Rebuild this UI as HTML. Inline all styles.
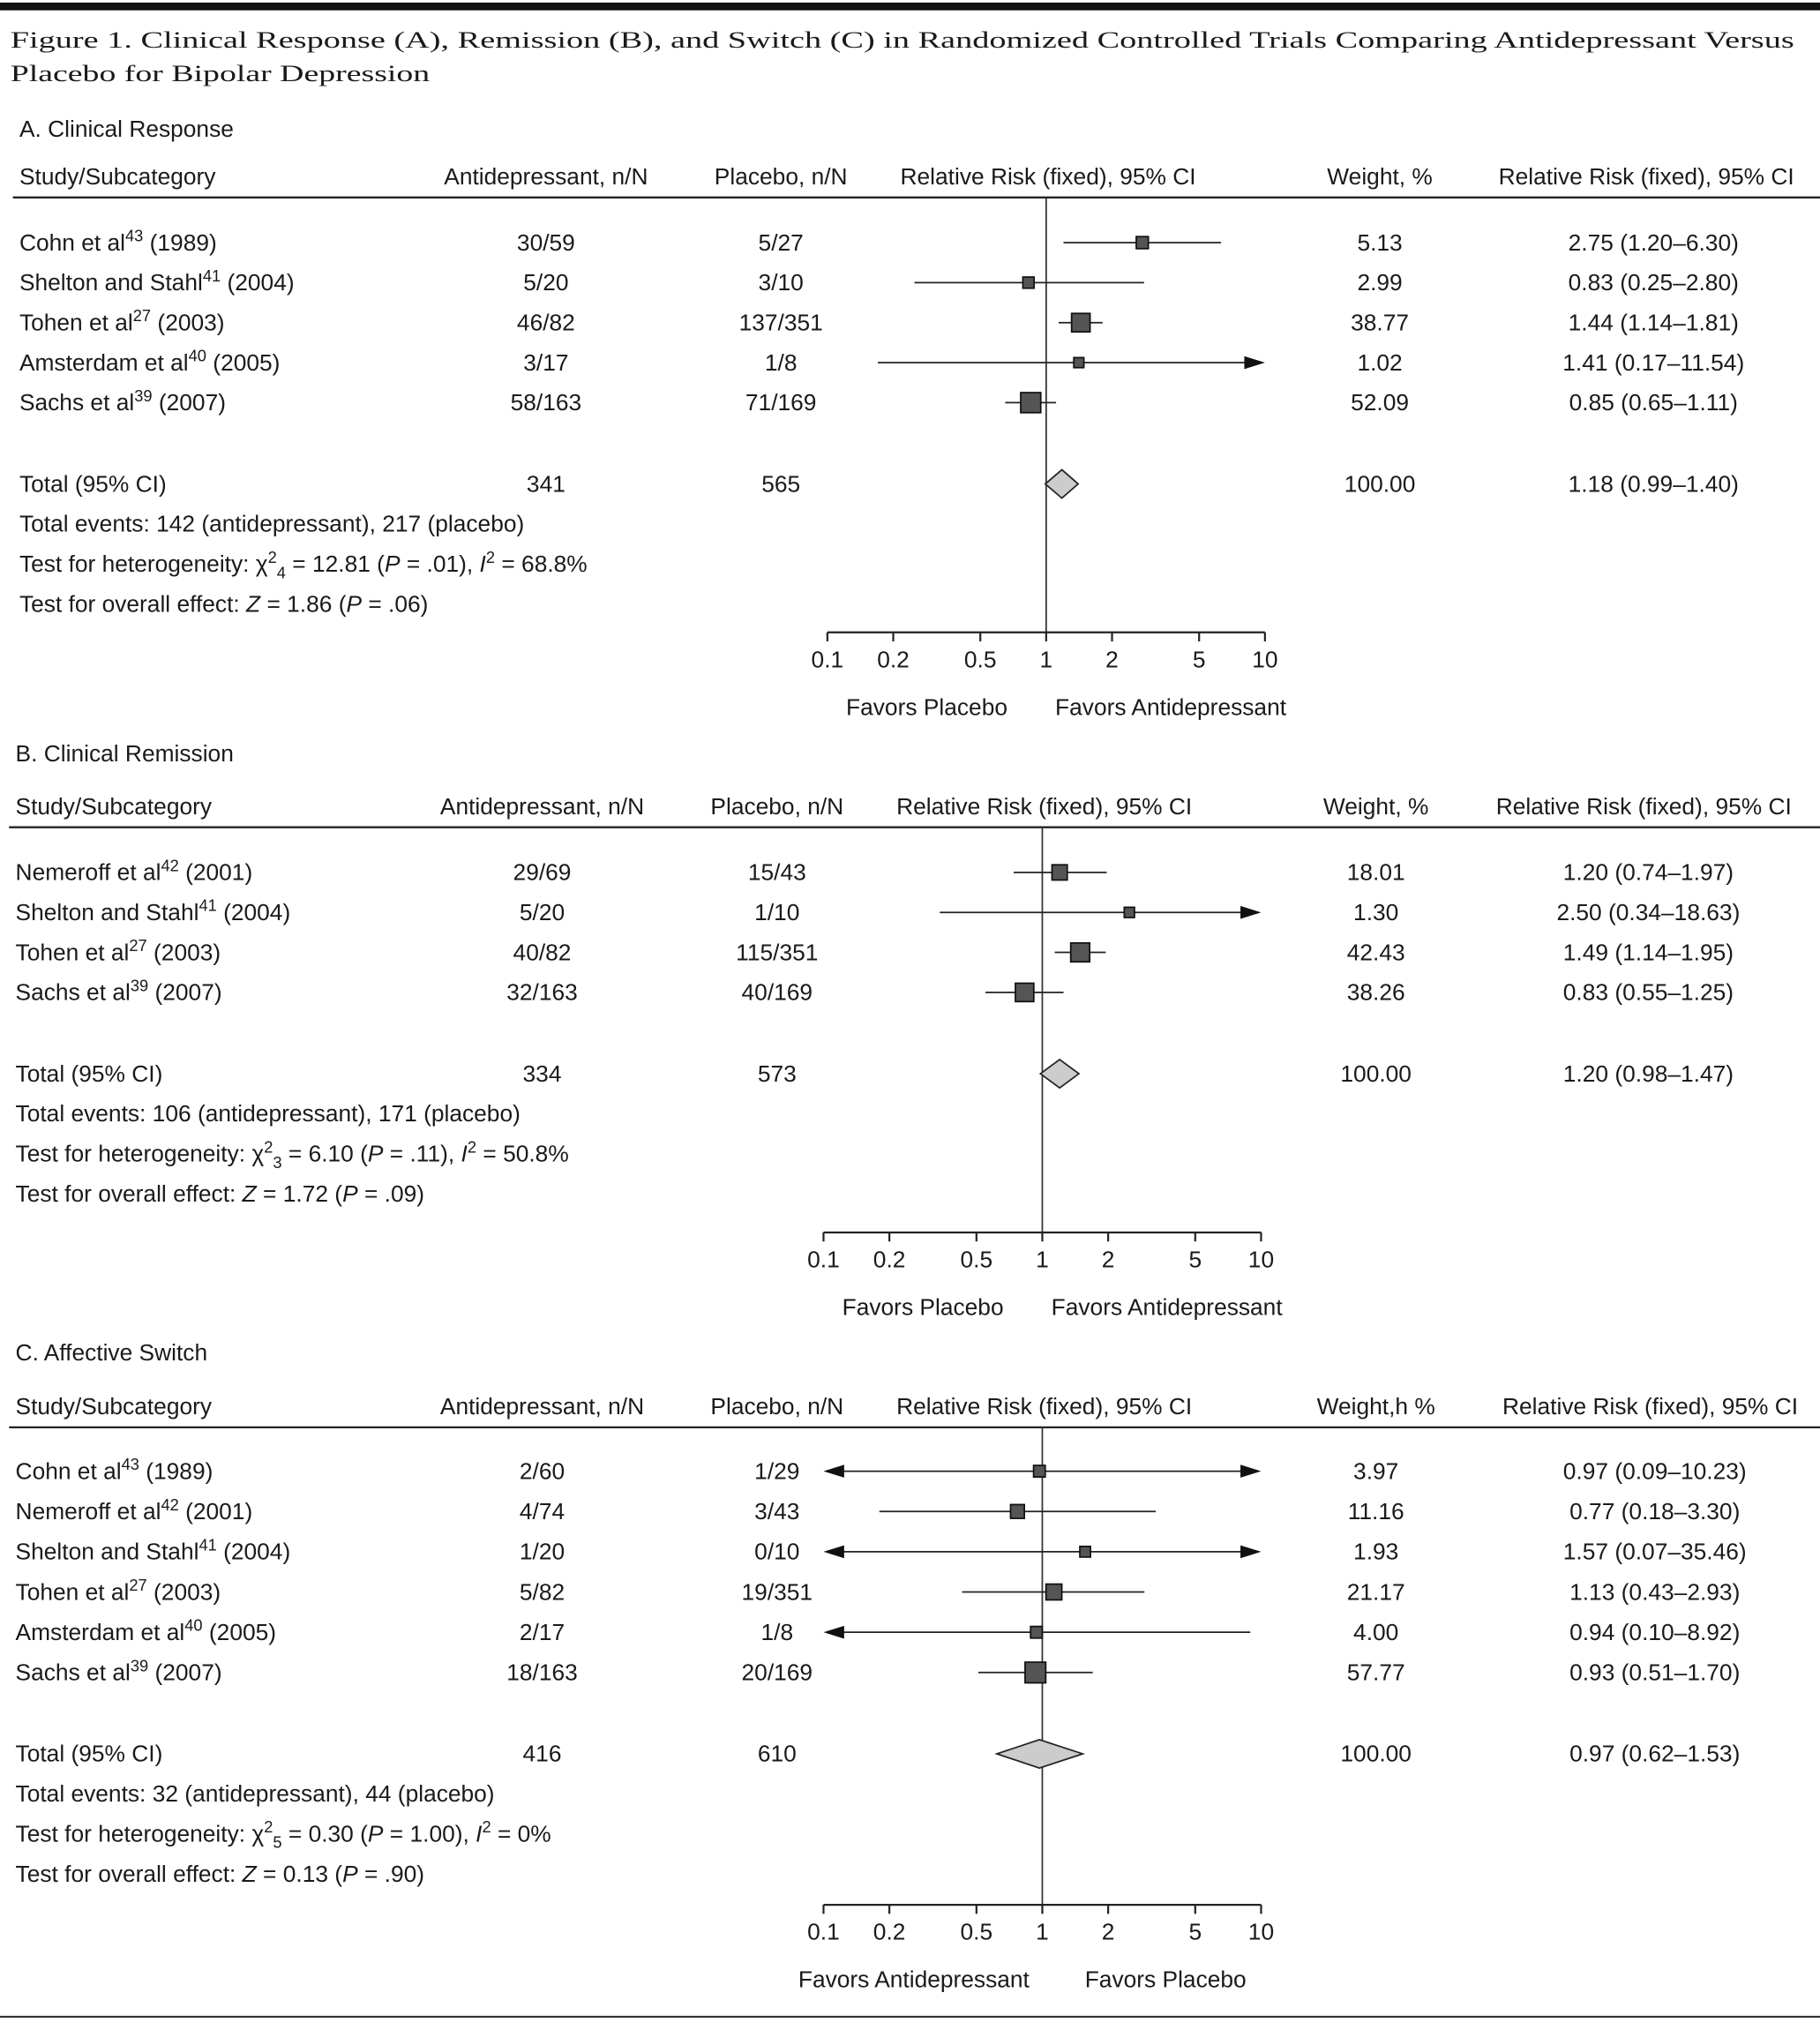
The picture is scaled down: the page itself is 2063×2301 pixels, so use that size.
<!DOCTYPE html>
<html><head><meta charset="utf-8">
<style>
html,body{margin:0;padding:0;background:#fff;}
svg{display:block;}
text{font-family:"Liberation Sans",sans-serif;font-size:18px;fill:#1a1a1a;}
.serif{font-family:"Liberation Serif",serif;}
</style></head>
<body>
<svg id="fig" width="2063" height="2301" viewBox="0 0 1410 1573" preserveAspectRatio="none" xmlns="http://www.w3.org/2000/svg">
<rect x="0" y="2" width="1410" height="6" fill="#111"/>
<text class="serif" x="8" y="37" font-size="28" textLength="1382" lengthAdjust="spacingAndGlyphs">Figure 1. Clinical Response (A), Remission (B), and Switch (C) in Randomized Controlled Trials Comparing Antidepressant Versus</text>
<text class="serif" x="8" y="63" font-size="28" textLength="325" lengthAdjust="spacingAndGlyphs">Placebo for Bipolar Depression</text>
<rect x="0" y="1562" width="1410" height="1.5" fill="#333"/>
</svg>
<script>
// ---- data ----
const ticks = [0.1, 0.2, 0.5, 1, 2, 5, 10];
const tickLabels = ['0.1', '0.2', '0.5', '1', '2', '5', '10'];

const studiesA = ['Cohn et al|43|(1989)', 'Shelton and Stahl|41|(2004)', 'Tohen et al|27|(2003)', 'Amsterdam et al|40|(2005)', 'Sachs et al|39|(2007)'];
const antiA = ['30/59', '5/20', '46/82', '3/17', '58/163'];
const placA = ['5/27', '3/10', '137/351', '1/8', '71/169'];
const weightA = [5.13, 2.99, 38.77, 1.02, 52.09];
const rrA = [2.75, 0.83, 1.44, 1.41, 0.85];
const loA = [1.20, 0.25, 1.14, 0.17, 0.65];
const hiA = [6.30, 2.80, 1.81, 11.54, 1.11];
const totalA = ['341', '565', '100.00'];
const totalRRA = [1.18, 0.99, 1.40];

const studiesB = ['Nemeroff et al|42|(2001)', 'Shelton and Stahl|41|(2004)', 'Tohen et al|27|(2003)', 'Sachs et al|39|(2007)'];
const antiB = ['29/69', '5/20', '40/82', '32/163'];
const placB = ['15/43', '1/10', '115/351', '40/169'];
const weightB = [18.01, 1.30, 42.43, 38.26];
const rrB = [1.20, 2.50, 1.49, 0.83];
const loB = [0.74, 0.34, 1.14, 0.55];
const hiB = [1.97, 18.63, 1.95, 1.25];
const totalB = ['334', '573', '100.00'];
const totalRRB = [1.20, 0.98, 1.47];

const studiesC = ['Cohn et al|43|(1989)', 'Nemeroff et al|42|(2001)', 'Shelton and Stahl|41|(2004)', 'Tohen et al|27|(2003)', 'Amsterdam et al|40|(2005)', 'Sachs et al|39|(2007)'];
const antiC = ['2/60', '4/74', '1/20', '5/82', '2/17', '18/163'];
const placC = ['1/29', '3/43', '0/10', '19/351', '1/8', '20/169'];
const weightC = [3.97, 11.16, 1.93, 21.17, 4.00, 57.77];
const rrC = [0.97, 0.77, 1.57, 1.13, 0.94, 0.93];
const loC = [0.09, 0.18, 0.07, 0.43, 0.10, 0.51];
const hiC = [10.23, 3.30, 35.46, 2.93, 8.92, 1.70];
const totalC = ['416', '610', '100.00'];
const totalRRC = [0.97, 0.62, 1.53];

const NS = 'http://www.w3.org/2000/svg';
const svg = document.getElementById('fig');

function mk(tag, attrs, parent) {
  const e = document.createElementNS(NS, tag);
  for (const k in attrs) e.setAttribute(k, attrs[k]);
  (parent || svg).appendChild(e);
  return e;
}
function txt(x, y, html, anchor, size, parent) {
  const t = mk('text', {x: x, y: y, 'text-anchor': anchor || 'start'}, parent);
  if (size) t.setAttribute('font-size', size);
  t.innerHTML = html;
  return t;
}
function sup(s) { return '<tspan dy="-7" font-size="12.5">' + s + '</tspan><tspan dy="7"> </tspan>'; }
function fmt(v) { return v.toFixed(2); }

function panel(cfg, studies, anti, plac, weight, rr, lo, hi, total, totalRR) {
  const g = mk('g', {});
  
  
  const o = cfg.xOff;
  const x0 = 641 + o, x10 = 980 + o;
  const xs = v => x0 + (Math.log10(v) + 1) / 2 * (x10 - x0);
  let t;
  t = txt(15 + o, cfg.titleY, cfg.title, 'start', 21, g);
  
  
  const hdr = [['Study/Subcategory', 15 + o, 'start'], ['Antidepressant, n/N', 423 + o, 'middle'], ['Placebo, n/N', 605 + o, 'middle'],
    ['Relative Risk (fixed), 95% CI', 812 + o, 'middle'], [cfg.weightHdr, 1069 + o, 'middle'], ['Relative Risk (fixed), 95% CI', cfg.rrRight, 'end']];
  hdr.forEach(h => {
    const e = txt(h[1], cfg.headerY, h[0], h[2], null, g);
    
    
  });
  const hl = mk('line', {x1: 10 + o, x2: 1410, y1: cfg.lineY, y2: cfg.lineY, stroke: '#222', 'stroke-width': 1.6}, g);
  
  
  const nl = mk('line', {x1: xs(1), x2: xs(1), y1: cfg.lineY, y2: cfg.axisY, stroke: '#333', 'stroke-width': 1.2}, g);
  
  
  studies.forEach((s, i) => {
    const y = cfg.rowY0 + i * cfg.step;
    const p = s.split('|');
    let e = txt(15 + o, y, p[0] + sup(p[1]) + p[2], 'start', null, g);
    
    
    e = txt(423 + o, y, anti[i], 'middle', null, g);
    
    
    e = txt(605 + o, y, plac[i], 'middle', null, g);
    
    
    e = txt(1069 + o, y, fmt(weight[i]), 'middle', null, g);
    
    
    e = txt(cfg.rrCenter, y, fmt(rr[i]) + ' (' + fmt(lo[i]) + '–' + fmt(hi[i]) + ')', 'middle', null, g);
    
    
    const cy = y - 6;
    const l = Math.max(lo[i], 0.1), h = Math.min(hi[i], 10);
    const la = lo[i] <= 0.1, ra = hi[i] > 10;
    const ci = mk('line', {x1: xs(l) + (la ? 14 : 0), x2: xs(h) - (ra ? 14 : 0), y1: cy, y2: cy, stroke: '#222', 'stroke-width': 1.2}, g);
    
    
    if (ra) {
      const a = mk('polygon', {points: (xs(10) - 16) + ',' + (cy - 5) + ' ' + xs(10) + ',' + cy + ' ' + (xs(10) - 16) + ',' + (cy + 5), fill: '#111'}, g);
      
      
    }
    if (la) {
      const a = mk('polygon', {points: (xs(0.1) + 16) + ',' + (cy - 5) + ' ' + xs(0.1) + ',' + cy + ' ' + (xs(0.1) + 16) + ',' + (cy + 5), fill: '#111'}, g);
      
      
    }
    const sz = 6.5 + Math.sqrt(weight[i]) * 1.25;
    const sq = mk('rect', {x: xs(rr[i]) - sz / 2, y: cy - sz / 2, width: sz, height: sz, fill: '#555', stroke: '#111', 'stroke-width': 1.2}, g);
    
    
  });
  const ty = cfg.totalY;
  let e = txt(15 + o, ty, 'Total (95% CI)', 'start', null, g);
  
  
  e = txt(423 + o, ty, total[0], 'middle', null, g);
  
  
  e = txt(605 + o, ty, total[1], 'middle', null, g);
  
  
  e = txt(1069 + o, ty, total[2], 'middle', null, g);
  
  
  e = txt(cfg.rrCenter, ty, fmt(totalRR[0]) + ' (' + fmt(totalRR[1]) + '–' + fmt(totalRR[2]) + ')', 'middle', null, g);
  
  
  const dy = ty - 6;
  const dm = mk('polygon', {points: xs(totalRR[1]) + ',' + dy + ' ' + xs(totalRR[0]) + ',' + (dy - 11) + ' ' + xs(totalRR[2]) + ',' + dy + ' ' + xs(totalRR[0]) + ',' + (dy + 11), fill: '#ccc', stroke: '#222', 'stroke-width': 1.2}, g);
  
  
  cfg.foot.forEach((f, i) => {
    const fe = txt(15 + o, ty + 31 * (i + 1), f, 'start', null, g);
    
    
  });
  const ax = mk('line', {x1: x0, x2: x10, y1: cfg.axisY, y2: cfg.axisY, stroke: '#222', 'stroke-width': 1.5}, g);
  
  
  ticks.forEach((v, i) => {
    const tk = mk('line', {x1: xs(v), x2: xs(v), y1: cfg.axisY, y2: cfg.axisY + 7, stroke: '#222', 'stroke-width': 1.5}, g);
    
    
    const tl = txt(xs(v), cfg.axisY + 27, tickLabels[i], 'middle', null, g);
    
    
  });
  e = txt(cfg.favL[1] + o, cfg.axisY + 64, cfg.favL[0], 'middle', null, g);
  
  
  e = txt(cfg.favR[1] + o, cfg.axisY + 64, cfg.favR[0], 'middle', null, g);
  
  
}

function chi(df, rest) {
  return 'Test for heterogeneity: χ<tspan dy="-7" font-size="12.5">2</tspan><tspan dy="12" font-size="12.5">' + df + '</tspan><tspan dy="-5"> ' + rest + '</tspan>';
}
const It = '<tspan font-style="italic">';

panel({key: 'clinical-response', title: 'A. Clinical Response', xOff: 0, titleY: 106, headerY: 143, lineY: 153, rowY0: 194, step: 31,
  totalY: 381, axisY: 490, weightHdr: 'Weight, %', rrRight: 1390, rrCenter: 1281,
  favL: ['Favors Placebo', 718], favR: ['Favors Antidepressant', 907],
  foot: ['Total events: 142 (antidepressant), 217 (placebo)',
    chi('4', '= 12.81 (' + It + 'P</tspan> = .01), ' + It + 'I</tspan><tspan dy="-7" font-size="12.5">2</tspan><tspan dy="7"> = 68.8%</tspan>'),
    'Test for overall effect: ' + It + 'Z</tspan> = 1.86 (' + It + 'P</tspan> = .06)']
}, studiesA, antiA, placA, weightA, rrA, loA, hiA, totalA, totalRRA);

panel({key: 'clinical-remission', title: 'B. Clinical Remission', xOff: -3, titleY: 590, headerY: 631, lineY: 641, rowY0: 682, step: 31,
  totalY: 838, axisY: 955, weightHdr: 'Weight, %', rrRight: 1388, rrCenter: 1277,
  favL: ['Favors Placebo', 718], favR: ['Favors Antidepressant', 907],
  foot: ['Total events: 106 (antidepressant), 171 (placebo)',
    chi('3', '= 6.10 (' + It + 'P</tspan> = .11), ' + It + 'I</tspan><tspan dy="-7" font-size="12.5">2</tspan><tspan dy="7"> = 50.8%</tspan>'),
    'Test for overall effect: ' + It + 'Z</tspan> = 1.72 (' + It + 'P</tspan> = .09)']
}, studiesB, antiB, placB, weightB, rrB, loB, hiB, totalB, totalRRB);

panel({key: 'affective-switch', title: 'C. Affective Switch', xOff: -3, titleY: 1054, headerY: 1096, lineY: 1106, rowY0: 1146, step: 31.2,
  totalY: 1365, axisY: 1476, weightHdr: 'Weight,h %', rrRight: 1393, rrCenter: 1282,
  favL: ['Favors Antidepressant', 711], favR: ['Favors Placebo', 906],
  foot: ['Total events: 32 (antidepressant), 44 (placebo)',
    chi('5', '= 0.30 (' + It + 'P</tspan> = 1.00), ' + It + 'I</tspan><tspan dy="-7" font-size="12.5">2</tspan><tspan dy="7"> = 0%</tspan>'),
    'Test for overall effect: ' + It + 'Z</tspan> = 0.13 (' + It + 'P</tspan> = .90)']
}, studiesC, antiC, placC, weightC, rrC, loC, hiC, totalC, totalRRC);
</script>
</body></html>
